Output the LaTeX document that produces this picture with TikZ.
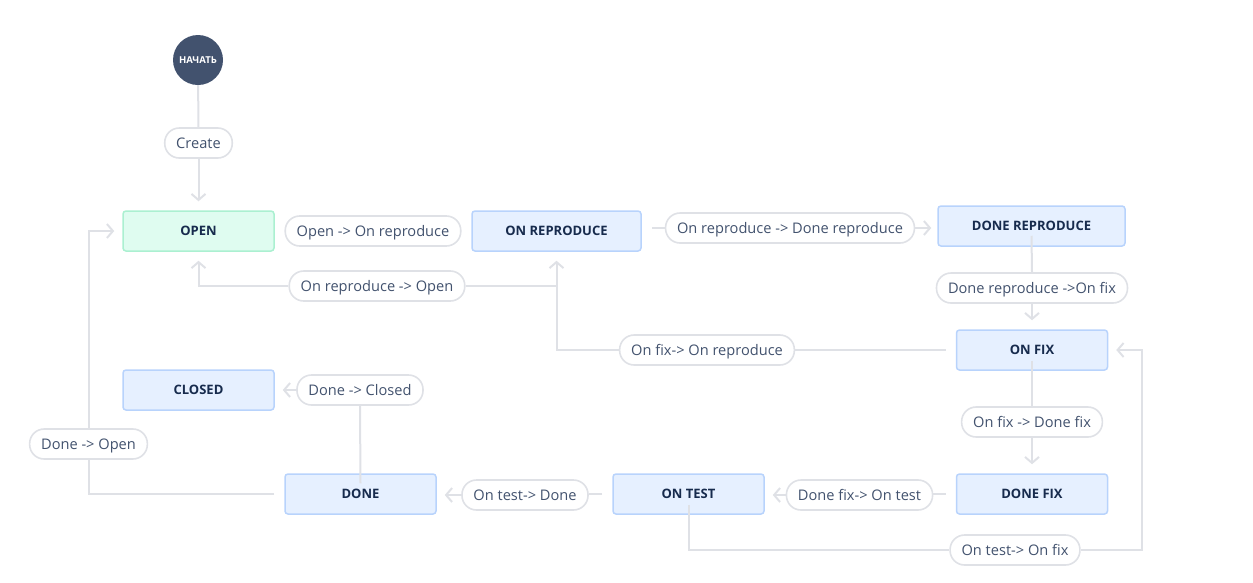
\documentclass[tikz,border=0pt]{standalone}
\usepackage{fontspec}
\setmainfont{Open Sans}
\usetikzlibrary{arrows.meta}
\definecolor{boxbg}{HTML}{E6F0FF}
\definecolor{boxbd}{HTML}{B8D3FC}
\definecolor{openbg}{HTML}{DFFCF0}
\definecolor{openbd}{HTML}{ABF0D1}
\definecolor{lineg}{HTML}{DFE1E6}
\definecolor{navy}{HTML}{172B4D}
\definecolor{lbltext}{HTML}{42526E}
\definecolor{startbg}{HTML}{42526E}
\tikzset{
  state/.style={draw=boxbd, fill=boxbg, line width=1.5pt, rounded corners=3pt,
    minimum height=40pt, minimum width=151pt, inner sep=0pt,
    text height=9.5pt, text depth=0pt,
    font=\bfseries\fontsize{13}{15}\selectfont, text=navy},
  lbl/.style={draw=lineg, fill=white, line width=1.6pt, rounded corners=14.5pt,
    minimum height=30pt, inner xsep=11.5pt, inner ysep=0pt,
    text height=11pt, text depth=1pt,
    font=\fontsize{14.6}{16}\selectfont, text=lbltext},
  conn/.style={draw=lineg, line width=2pt},
  arr/.style={conn, -{Straight Barb[length=6pt,width=14pt,line width=2pt]}},
}
\begin{document}
\begin{tikzpicture}[x=1pt,y=-1pt]
\useasboundingbox (0,0) rectangle (1253,582);
% states
\node[circle, fill=startbg, minimum size=50pt, inner sep=0pt, text=white,
  font=\bfseries\fontsize{9.5}{10}\selectfont] (start) at (198,60) {НАЧАТЬ};
\node[state, draw=openbd, fill=openbg] (open) at (198.5,231) {OPEN};
\node[state, minimum width=169pt] (onrep) at (556.5,231) {ON REPRODUCE};
\node[state, minimum width=187pt] (donerep) at (1031.5,226) {DONE REPRODUCE};
\node[state] (onfix) at (1032,350) {ON FIX};
\node[state] (donefix) at (1032,494) {DONE FIX};
\node[state] (ontest) at (688.5,494) {ON TEST};
\node[state] (done) at (360.5,494) {DONE};
\node[state] (closed) at (198.5,390) {CLOSED};
% labels
\node[lbl] (lcreate) at (198.5,143) {Create};
\node[lbl] (l1) at (373,231) {Open -> On reproduce};
\node[lbl] (l2) at (790,228) {On reproduce -> Done reproduce};
\node[lbl] (l3) at (1032,288) {Done reproduce ->On fix};
\node[lbl] (l4) at (377,286) {On reproduce -> Open};
\node[lbl] (l5) at (707,350) {On fix-> On reproduce};
\node[lbl] (l6) at (1032,422) {On fix -> Done fix};
\node[lbl] (l7) at (859.5,495) {Done fix-> On test};
\node[lbl] (l8) at (525,495) {On test-> Done};
\node[lbl] (l9) at (360,390) {Done -> Closed};
\node[lbl] (l10) at (88.5,444) {Done -> Open};
\node[lbl] (l11) at (1015,550) {On test-> On fix};
\coordinate (c1) at (1142,550);
% connectors
\draw[conn] (start) -- (lcreate);
\draw[arr, shorten >=9pt] (lcreate) -- (open);
\draw[conn] ([xshift=10pt]onrep.east |- l2.west) -- (l2.west);
\draw[arr, shorten >=6pt] (l2.east) -- (l2.east -| donerep.west);
\draw[conn] ([yshift=11pt]donerep.south) -- (l3.north);
\draw[arr, shorten >=9pt] (l3.south) -- (onfix.north);
\draw[conn] (l4.east) -- (l4.east -| onrep.south);
\draw[arr, shorten >=9pt] (l4.west) -| (open.south);
\draw[conn] ([xshift=-10pt]onfix.west) -- (l5.east);
\draw[arr, shorten >=9pt] (l5.west) -| (onrep.south);
\draw[conn] ([yshift=10pt]onfix.south) -- (l6.north);
\draw[arr, shorten >=9pt] (l6.south) -- (donefix.north);
\draw[conn] ([xshift=-10pt]donefix.west) -- (donefix.west -| l7.east);
\draw[arr, shorten >=8pt] (l7.west) -- (l7.west -| ontest.east);
\draw[conn] ([xshift=-10pt]ontest.west) -- (ontest.west -| l8.east);
\draw[arr, shorten >=8pt] (l8.west) -- (l8.west -| done.east);
\draw[conn] ([yshift=-10pt]done.north) -- (l9.south);
\draw[arr, shorten >=8pt] (l9.west) -- (l9.west -| closed.east);
\draw[conn] ([xshift=-10pt]done.west) -| (l10.south);
\draw[arr, shorten >=8pt] (l10.north) |- (open.west);
\draw[conn] ([yshift=10pt]ontest.south) |- (l11.west);
\draw[arr, shorten >=8pt] (l11.east) -- (c1) |- (onfix.east);
\end{tikzpicture}
\end{document}
